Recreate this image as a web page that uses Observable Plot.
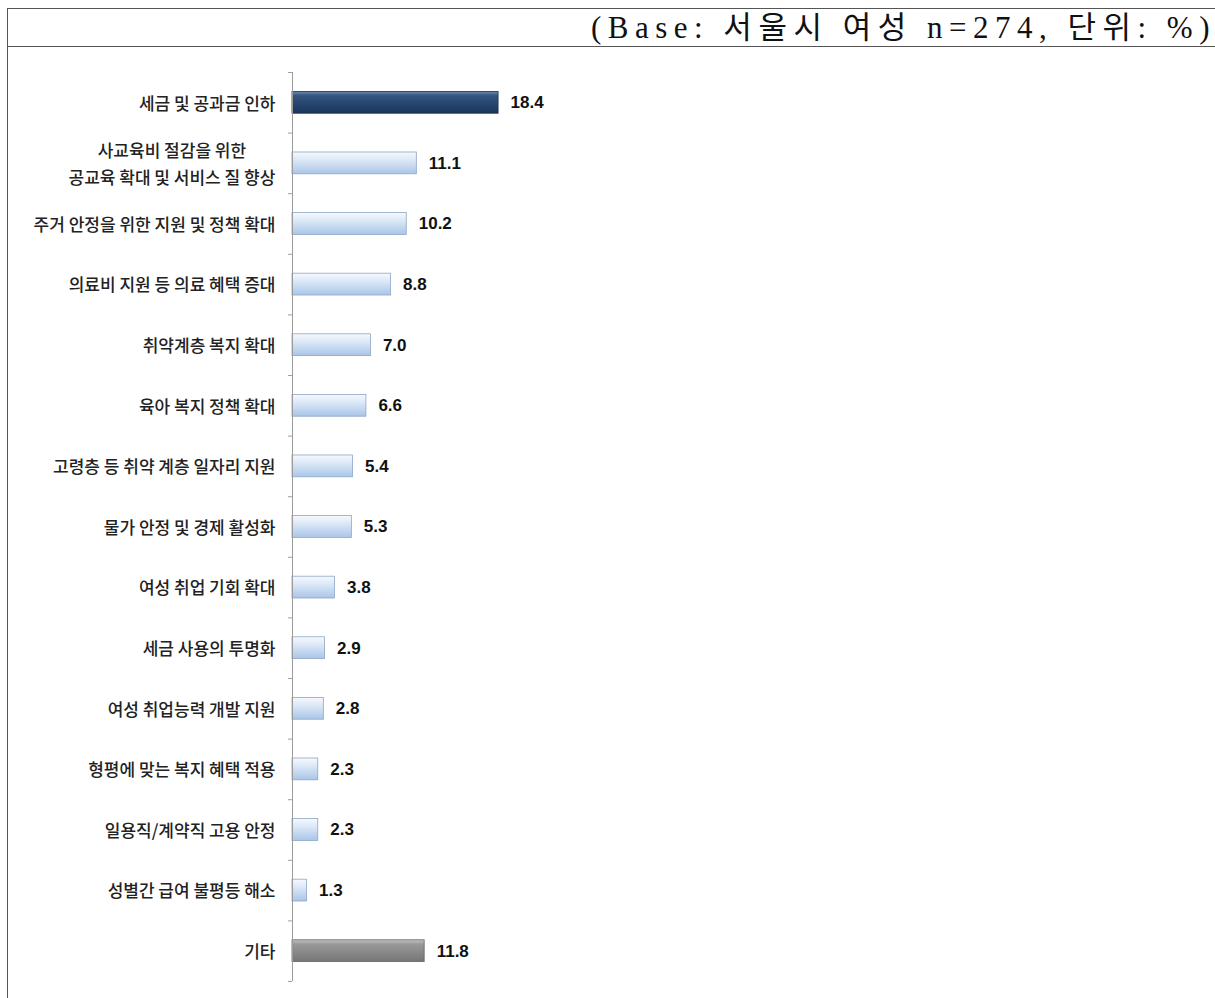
<!DOCTYPE html>
<html><head><meta charset="utf-8">
<script src="https://cdn.jsdelivr.net/npm/d3@7"></script>
<script src="https://cdn.jsdelivr.net/npm/@observablehq/plot@0.6"></script>
<style>
body{margin:0;background:#fff;}
#frame{position:absolute;left:7px;top:8px;width:1210px;height:992px;border:1px solid #555;box-sizing:border-box;background:#fff;}
#hdr{height:37px;border-bottom:1px solid #555;text-align:right;font-family:"Liberation Serif","Noto Sans CJK KR",serif;font-size:31px;line-height:38px;padding-right:0px;letter-spacing:6.5px;color:#111;white-space:nowrap;}
#chart svg{display:block;}
</style></head><body>
<div id="frame"><div id="hdr">(Base: 서울시 여성 n=274, 단위: %)</div><div id="chart"></div></div>
<script>
const categories = [
  "세금 및 공과금 인하",
  "사교육비 절감을 위한\n공교육 확대 및 서비스 질 향상",
  "주거 안정을 위한 지원 및 정책 확대",
  "의료비 지원 등 의료 혜택 증대",
  "취약계층 복지 확대",
  "육아 복지 정책 확대",
  "고령층 등 취약 계층 일자리 지원",
  "물가 안정 및 경제 활성화",
  "여성 취업 기회 확대",
  "세금 사용의 투명화",
  "여성 취업능력 개발 지원",
  "형평에 맞는 복지 혜택 적용",
  "일용직/계약직 고용 안정",
  "성별간 급여 불평등 해소",
  "기타"
];
const values = [18.4, 11.1, 10.2, 8.8, 7.0, 6.6, 5.4, 5.3, 3.8, 2.9, 2.8, 2.3, 2.3, 1.3, 11.8];
const groups = ["top","item","item","item","item","item","item","item","item","item","item","item","item","item","other"];

const fills = {top: "url(#gDark)", item: "url(#gLight)", other: "url(#gGray)"};
const strokes = {top: "#1a3050", item: "#8ea6c4", other: "#666666"};

const rows = categories.map((c, i) => ({label: c, value: values[i], idx: i, group: groups[i]}));
const boundaries = d3.range(categories.length + 1).map(i => i - 0.5);

const chart = Plot.plot({
  width: 1208,
  height: 950,
  marginLeft: 284,
  marginRight: 28,
  marginTop: 25,
  marginBottom: 16,
  style: {fontFamily: "'Noto Sans CJK KR', 'Noto Sans', sans-serif", fontSize: "17px", color: "#222", background: "transparent"},
  x: {domain: [0, 80], axis: null},
  y: {domain: [-0.5, categories.length - 0.5], reverse: true, axis: null},
  color: {type: "identity"},
  marks: [
    Plot.rectX(rows, {
      x: "value",
      y1: d => d.idx - 0.18,
      y2: d => d.idx + 0.18,
      fill: d => fills[d.group],
      stroke: d => strokes[d.group],
      strokeWidth: 0.8
    }),
    Plot.ruleX([0], {stroke: "#9a9a9a", strokeWidth: 1}),
    Plot.axisY({ticks: boundaries, tickFormat: () => "", tickSize: 4, stroke: "#a0a0a0", label: null}),
    Plot.text(rows, {
      x: 0, y: "idx", text: "label", textAnchor: "end", dx: -17, dy: -2,
      fontSize: 17, fontWeight: 500, lineHeight: 1.6, fill: "#222", className: "catlabels"
    }),
    Plot.text(rows, {
      x: "value", y: "idx", text: d => d.value.toFixed(1), textAnchor: "start", dx: 12,
      fontSize: 17, fontWeight: "bold", fontFamily: "'Liberation Sans', Arial, sans-serif", fill: "#111"
    })
  ]
});

const defs = `<defs>
<linearGradient id="gDark" x1="0" y1="0" x2="0" y2="1">
  <stop offset="0" stop-color="#6d8bb2"/><stop offset="0.2" stop-color="#34557f"/>
  <stop offset="0.7" stop-color="#22416a"/><stop offset="1" stop-color="#1a3456"/>
</linearGradient>
<linearGradient id="gLight" x1="0" y1="0" x2="0" y2="1">
  <stop offset="0" stop-color="#f6f9fd"/><stop offset="0.35" stop-color="#dde9f7"/>
  <stop offset="1" stop-color="#a9c5e8"/>
</linearGradient>
<linearGradient id="gGray" x1="0" y1="0" x2="0" y2="1">
  <stop offset="0" stop-color="#c4c4c4"/><stop offset="0.2" stop-color="#999999"/>
  <stop offset="1" stop-color="#757575"/>
</linearGradient>
</defs>`;
chart.insertAdjacentHTML("afterbegin", defs);
document.getElementById("chart").appendChild(chart);

// center multi-line category labels within their block
d3.select(chart).selectAll(".catlabels text").each(function() {
  const spans = this.querySelectorAll("tspan");
  if (spans.length > 1) {
    const w = this.getBBox().width;
    this.setAttribute("text-anchor", "middle");
    spans.forEach(s => s.setAttribute("x", -w / 2));
  }
});
</script>
</body></html>
